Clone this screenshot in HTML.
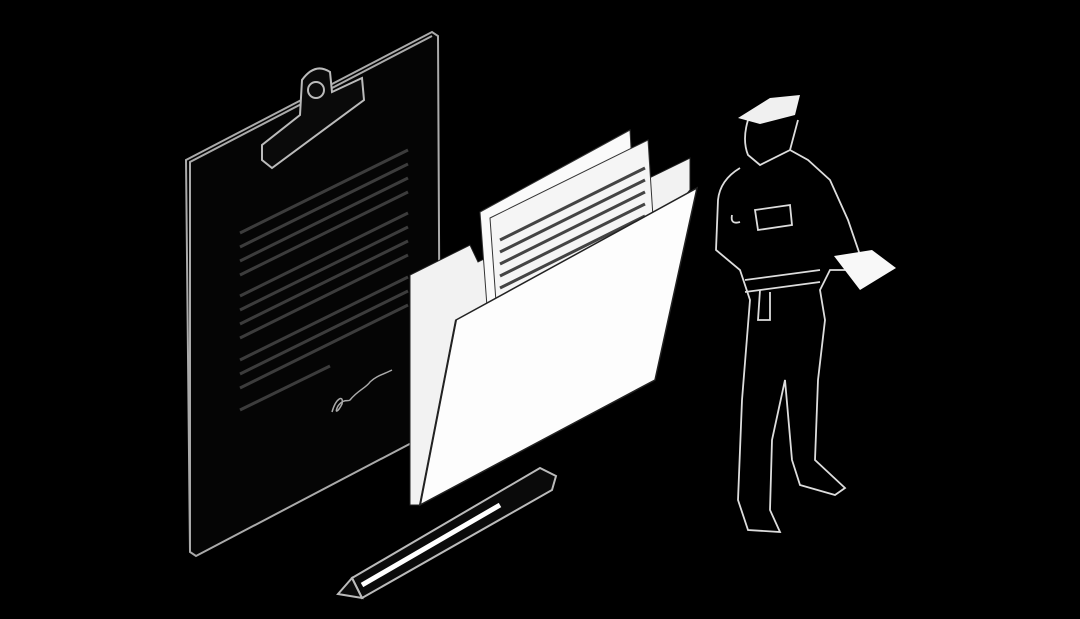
<!DOCTYPE html>
<html><head><meta charset="utf-8"><style>
html,body{margin:0;padding:0;background:#000;width:1080px;height:619px;overflow:hidden}
</style></head><body>
<svg width="1080" height="619" viewBox="0 0 1080 619" xmlns="http://www.w3.org/2000/svg">
<rect width="1080" height="619" fill="#000"/>
<g fill="none" stroke="#aaa" stroke-width="2">
<polygon points="186,160 432,32 438,36 440,428 196,556 190,552" fill="#050505"/>
<polyline points="190,552 190,162 432,36"/>
</g>
<g stroke="#3c3c3c" stroke-width="3">
<line x1="240" y1="233" x2="408" y2="150"/><line x1="240" y1="247" x2="408" y2="164"/>
<line x1="240" y1="261" x2="408" y2="178"/><line x1="240" y1="275" x2="408" y2="192"/>
<line x1="240" y1="296" x2="408" y2="213"/><line x1="240" y1="310" x2="408" y2="227"/>
<line x1="240" y1="324" x2="408" y2="241"/><line x1="240" y1="338" x2="408" y2="255"/>
<line x1="240" y1="360" x2="408" y2="277"/><line x1="240" y1="374" x2="408" y2="291"/>
<line x1="240" y1="388" x2="408" y2="305"/><line x1="240" y1="410" x2="330" y2="366"/>
</g>
<path d="M332,412 c4,-14 12,-18 10,-8 c-4,8 -8,10 -4,2 c6,-8 10,-4 12,-6 c8,-10 16,-12 20,-18 c6,-6 14,-8 22,-12" fill="none" stroke="#aaa" stroke-width="1.5"/>
<g fill="#0a0a0a" stroke="#bbb" stroke-width="2">
<path d="M262,160 L262,145 L300,115 L302,80 Q315,62 330,72 L332,92 L362,78 L364,100 L272,168 Z"/>
<circle cx="316" cy="90" r="8"/>
</g>
<polygon points="410,275 470,245 478,262 690,158 690,190 420,505 410,505" fill="#f2f2f2" stroke="#222" stroke-width="1"/>
<polygon points="480,212 630,130 636,240 488,320" fill="#fafafa" stroke="#333"/>
<polygon points="490,218 648,140 655,248 498,330" fill="#f5f5f5" stroke="#333"/>
<g stroke="#444" stroke-width="3">
<line x1="500" y1="240" x2="645" y2="168"/><line x1="500" y1="252" x2="645" y2="180"/>
<line x1="500" y1="264" x2="645" y2="192"/><line x1="500" y1="276" x2="645" y2="204"/>
<line x1="500" y1="288" x2="645" y2="216"/><line x1="500" y1="300" x2="645" y2="228"/>
</g>
<polygon points="456,320 697,188 655,380 420,505" fill="#fdfdfd" stroke="#222" stroke-width="1.5"/>
<line x1="420" y1="505" x2="456" y2="320" stroke="#222" stroke-width="2"/>
<g stroke="#bbb" stroke-width="2">
<polygon points="352,578 540,468 556,476 552,490 362,598" fill="#0a0a0a"/>
<line x1="362" y1="585" x2="500" y2="505" stroke="#fff" stroke-width="5"/>
<polygon points="352,578 362,598 338,594" fill="#0a0a0a"/>
</g>
<g fill="none" stroke="#ddd" stroke-width="1.8">
<path d="M748,120 Q742,140 748,155 L760,165 L790,150 L798,120"/>
<path d="M740,168 Q720,180 718,200 L716,250 L740,270 L750,300 L742,400 L738,500 L748,530 L780,532 L770,510 L772,440 L785,380 L792,460 L800,485 L835,495 L845,488 L815,460 L818,380 L825,320 L820,290 L830,270 L848,270 L860,255 L848,220 L830,180 L808,160 L790,150"/>
<path d="M745,280 L820,270"/><path d="M745,292 L820,282"/>
<path d="M755,210 L790,205 L792,225 L758,230 Z"/>
<path d="M732,215 Q730,225 740,222"/>
<path d="M760,290 L758,320 L770,320 L770,292"/>
</g>
<polygon points="738,118 770,98 800,95 795,115 760,124" fill="#f0f0f0"/>
<polygon points="834,256 872,250 896,268 860,290" fill="#f8f8f8"/>
</svg>
</body></html>
